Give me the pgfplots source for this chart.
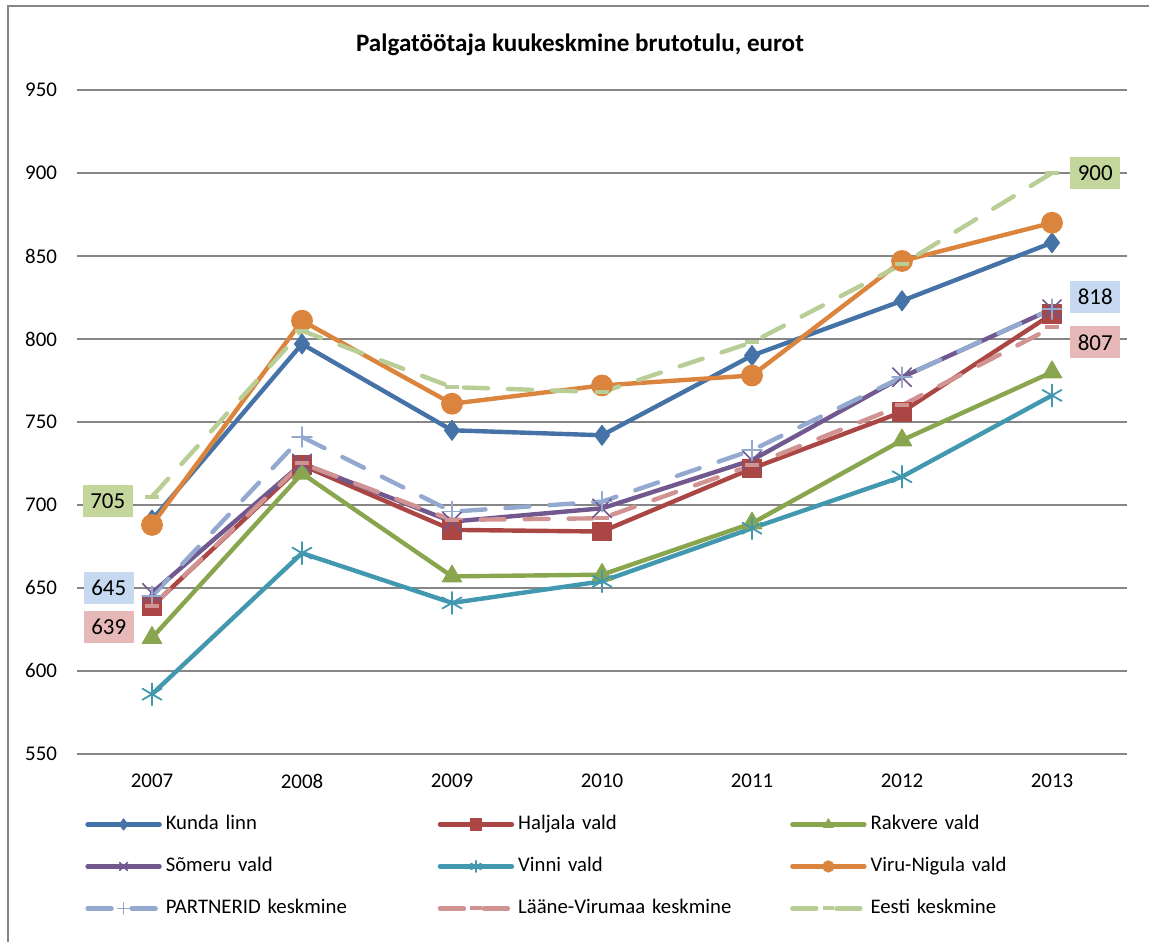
\documentclass[border=0pt]{standalone}
\usepackage{pgfplots}
\pgfplotsset{compat=1.18}
\usepackage{fontspec}
\setmainfont{Carlito}
\definecolor{cKunda}{HTML}{4572A7}
\definecolor{cHal}{HTML}{AA4643}
\definecolor{cRak}{HTML}{89A54E}
\definecolor{cSom}{HTML}{71588F}
\definecolor{cVin}{HTML}{4198AF}
\definecolor{cViru}{HTML}{DB843D}
\definecolor{cPart}{HTML}{93A9CF}
\definecolor{cLaane}{HTML}{D19392}
\definecolor{cEesti}{HTML}{B9CD96}
\definecolor{bGreen}{HTML}{C3D69B}
\definecolor{bBlue}{HTML}{C6D9F1}
\definecolor{bPink}{HTML}{E6B9B8}
\definecolor{gridc}{HTML}{868686}
\begin{document}
\begin{tikzpicture}
\begin{axis}[
  width=525bp, height=332bp, scale only axis,
  xmin=-0.5, xmax=6.5, ymin=550, ymax=950,
  xtick={0,...,6}, xticklabels={2007,2008,2009,2010,2011,2012,2013},
  ytick={550,600,...,950},
  ymajorgrids, grid style={gridc, line width=0.75bp},
  axis line style={draw=none},
  major tick length=0pt,
  tick label style={font=\fontsize{10.5}{12}\selectfont},
  /pgf/number format/assume math mode=true,
  yticklabel style={xshift=-6.5bp},
  xticklabel style={yshift=-6.5bp},
  title={Palgatöötaja kuukeskmine brutotulu, eurot},
  title style={at={(0.479,1.050)}, anchor=center, font=\bfseries\fontsize{12.6}{14}\selectfont},
  legend columns=3,
  legend cell align=left,
  legend style={at={(0.0076,-0.092)}, anchor=north west, draw=none, fill=none,
    inner sep=0pt, column sep=0pt, row sep=12bp,
    font=\fontsize{10.4}{12}\selectfont,
    nodes={inner ysep=0pt, inner xsep=2bp, text height=7bp, text depth=2bp, text width=134bp, align=left}},
  legend image code/.code={
    \draw[mark repeat=2, mark phase=2, #1, mark size=2.8bp] plot coordinates {(0bp,0bp) (18bp,0bp) (36bp,0bp)};
  },
  every axis plot/.append style={line width=2.2bp, line join=round, line cap=round},
]
\addplot[cKunda, mark=diamond*, mark size=5bp, mark options={solid, line width=0.5bp}]
  coordinates {(0,691) (1,797) (2,745) (3,742) (4,790) (5,823) (6,858)};
\addlegendentry{Kunda linn}
\addplot[cHal, mark=square*, mark size=4.6bp, mark options={solid, line width=0.5bp}]
  coordinates {(0,639) (1,724) (2,685) (3,684) (4,722) (5,756) (6,815)};
\addlegendentry{Haljala vald}
\addplot[cRak, mark=triangle*, mark size=5.6bp, mark options={solid, line width=0.5bp}]
  coordinates {(0,620) (1,719) (2,657) (3,658) (4,689) (5,739) (6,780)};
\addlegendentry{Rakvere vald}
\addplot[cSom, mark=x, mark size=6.5bp, mark options={solid, line width=0.8bp}]
  coordinates {(0,647) (1,725) (2,690) (3,698) (4,727) (5,777) (6,818)};
\addlegendentry{Sõmeru vald}
\addplot[cVin, mark=asterisk, mark size=5.5bp, mark options={solid, line width=0.9bp}]
  coordinates {(0,586) (1,671) (2,641) (3,654) (4,686) (5,717) (6,766)};
\addlegendentry{Vinni vald}
\addplot[cViru, mark=*, mark size=5.2bp, mark options={solid, line width=0.5bp}]
  coordinates {(0,688) (1,811) (2,761) (3,772) (4,778) (5,847) (6,870)};
\addlegendentry{Viru-Nigula vald}
\addplot[cPart, dash pattern=on 12bp off 10bp, mark=+, mark size=5bp, mark options={solid, line width=0.8bp}]
  coordinates {(0,645) (1,741) (2,696) (3,702) (4,733) (5,777) (6,818)};
\addlegendentry{PARTNERID keskmine}
\addplot[cLaane, dash pattern=on 12bp off 10bp, mark=-, mark size=3.5bp, mark options={solid, line width=2bp, line cap=butt}]
  coordinates {(0,639) (1,725) (2,691) (3,692) (4,724) (5,760) (6,807)};
\addlegendentry{Lääne-Virumaa keskmine}
\addplot[cEesti, dash pattern=on 12bp off 10bp, mark=-, mark size=3.5bp, mark options={solid, line width=2bp, line cap=butt}]
  coordinates {(0,705) (1,805) (2,771) (3,768) (4,798) (5,845) (6,900)};
\addlegendentry{Eesti keskmine}
% data labels
\pgfplotsset{lbl/.style={forget plot, draw=none, mark=none, nodes near coords, point meta=explicit symbolic,
  every node near coord/.append style={text=black, font=\fontsize{11.5}{13}\selectfont, inner sep=0pt,
  minimum width=25bp, minimum height=16bp, #1}}}
\addplot[lbl={fill=bGreen, anchor=east, xshift=-8.5bp, yshift=-2bp}] coordinates {(0,705)[705]};
\addplot[lbl={fill=bBlue, anchor=east, xshift=-8bp, yshift=4bp}] coordinates {(0,645)[645]};
\addplot[lbl={fill=bPink, anchor=east, xshift=-8bp, yshift=-10.5bp}] coordinates {(0,639)[639]};
\addplot[lbl={fill=bGreen, anchor=west, xshift=8bp}] coordinates {(6,900)[900]};
\addplot[lbl={fill=bBlue, anchor=west, xshift=8bp, yshift=6bp}] coordinates {(6,818)[818]};
\addplot[lbl={fill=bPink, anchor=west, xshift=8bp, yshift=-7.5bp}] coordinates {(6,807)[807]};
\end{axis}
\coordinate (BL) at ([shift={(-34.5bp,-94bp)}]current axis.south west);
\coordinate (TR) at ([shift={(11bp,42bp)}]current axis.north east);
\draw[gridc, line width=1bp] (BL) -- (BL |- TR) -- (TR);
\pgfresetboundingbox
\path[use as bounding box] ([shift={(-38.5bp,-94bp)}]current axis.south west) rectangle ([shift={(11bp,45bp)}]current axis.north east);
\end{tikzpicture}
\end{document}
